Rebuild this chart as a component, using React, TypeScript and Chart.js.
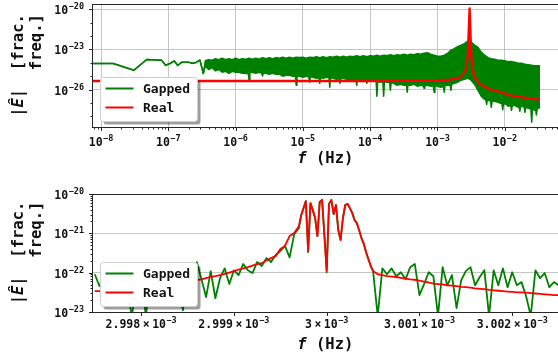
import React, { useEffect, useRef } from 'react';
import { Chart, registerables } from 'chart.js';

Chart.register(...registerables);

const seriesNames = ['Gapped', 'Real'];

// ---------------- top panel (log10 of frequency in Hz, log10 of |E|) ----------------
// upper edge of the dense "Gapped" spectrum
const topFreqLog10 = [
  -8.12, -7.82, -7.51, -7.32, -7.10, -7.04, -6.975, -6.91, -6.86, -6.80, -6.70, -6.65, -6.60, -6.53, -6.48,
  -6.45, -6.40, -6.35, -6.30, -6.25, -6.20, -6.15, -6.10, -6.05, -6.00,
  -5.95, -5.90, -5.85, -5.80, -5.75, -5.70, -5.65, -5.60, -5.55, -5.50,
  -5.45, -5.40, -5.35, -5.30, -5.25, -5.20, -5.15, -5.10, -5.05, -5.00,
  -4.95, -4.90, -4.85, -4.80, -4.75, -4.70, -4.65, -4.60, -4.55, -4.50,
  -4.45, -4.40, -4.35, -4.30, -4.25, -4.20, -4.15, -4.10, -4.05, -4.00,
  -3.95, -3.90, -3.85, -3.80, -3.75, -3.70, -3.65, -3.60, -3.55, -3.50,
  -3.45, -3.40, -3.35, -3.30, -3.25, -3.20, -3.15, -3.10, -3.05, -3.00,
  -2.95, -2.90, -2.85, -2.80, -2.75, -2.70, -2.65, -2.60, -2.55, -2.50,
  -2.45, -2.40, -2.35, -2.30, -2.25, -2.20, -2.15, -2.10, -2.05, -2.00,
  -1.95, -1.90, -1.85, -1.80, -1.75, -1.70, -1.65, -1.60, -1.55, -1.50,
  -1.475,
];
const topGappedUpperLog10 = [
  -24.05, -24.05, -24.55, -23.75, -23.80, -24.18, -24.05, -23.86, -24.20, -23.95, -23.95, -24.03, -24.00, -23.80, -24.80,
  -23.85, -23.76, -23.80, -23.69, -23.76, -23.65, -23.76, -23.69, -23.76, -23.65,
  -23.76, -23.69, -23.73, -23.65, -23.73, -23.65, -23.73, -23.61, -23.69, -23.61,
  -23.69, -23.61, -23.65, -23.58, -23.65, -23.58, -23.65, -23.58, -23.61, -23.58,
  -23.65, -23.58, -23.61, -23.54, -23.61, -23.54, -23.61, -23.54, -23.58, -23.50,
  -23.58, -23.50, -23.58, -23.50, -23.54, -23.46, -23.54, -23.46, -23.54, -23.46,
  -23.50, -23.43, -23.50, -23.43, -23.46, -23.39, -23.46, -23.39, -23.43, -23.35,
  -23.43, -23.35, -23.39, -23.31, -23.35, -23.28, -23.25, -23.35, -23.43, -23.50,
  -23.50, -23.43, -23.30, -23.05, -22.94, -22.79, -22.68, -22.56, -22.38, -22.45,
  -22.68, -22.83, -23.20, -23.43, -23.61, -23.69, -23.73, -23.80, -23.80, -23.84,
  -23.91, -23.91, -23.95, -24.03, -24.03, -24.10, -24.14, -24.18, -24.21, -24.21,
  -24.23,
];
// lower edge of the dense "Gapped" spectrum (with its narrow dips)
const topLowerFreqLog10 = [
  -8.12, -7.82, -7.51, -7.32, -7.10, -7.04, -6.975, -6.91, -6.86, -6.80, -6.70, -6.65, -6.60, -6.53, -6.48,
  -6.45, -6.40, -6.35, -6.30, -6.25, -6.20, -6.15, -6.10, -6.05, -6.00, -5.95, -5.90, -5.85,
  -5.812, -5.80, -5.788, -5.75, -5.70, -5.65, -5.612, -5.60, -5.588, -5.55, -5.50, -5.45, -5.40,
  -5.35, -5.30, -5.25, -5.20, -5.15, -5.112, -5.10, -5.088, -5.05, -5.00, -4.95,
  -4.912, -4.90, -4.888, -4.85, -4.80, -4.762, -4.75, -4.738, -4.70, -4.65,
  -4.612, -4.60, -4.588, -4.55, -4.50, -4.462, -4.45, -4.438, -4.40, -4.35, -4.30, -4.25,
  -4.212, -4.20, -4.188, -4.15, -4.10, -4.062, -4.05, -4.038, -4.00, -3.95,
  -3.912, -3.90, -3.888, -3.85, -3.812, -3.80, -3.788, -3.75, -3.712, -3.70, -3.688,
  -3.65, -3.60, -3.55, -3.50, -3.462, -3.45, -3.438, -3.40, -3.35, -3.30, -3.25,
  -3.212, -3.20, -3.188, -3.15, -3.10, -3.062, -3.05, -3.038, -3.00, -2.95,
  -2.912, -2.90, -2.888, -2.85, -2.812, -2.80, -2.788, -2.75, -2.70, -2.65, -2.60, -2.55,
  -2.50, -2.45, -2.40, -2.35, -2.30, -2.282, -2.27, -2.258, -2.25, -2.212, -2.20, -2.188,
  -2.15, -2.10, -2.05, -2.042, -2.03, -2.018, -2.00, -1.95, -1.912, -1.90, -1.888,
  -1.85, -1.80, -1.788, -1.776, -1.764, -1.75, -1.712, -1.70, -1.688, -1.65,
  -1.612, -1.60, -1.588, -1.55, -1.542, -1.53, -1.518, -1.50, -1.475,
];
const topGappedLowerLog10 = [
  -24.05, -24.05, -24.55, -23.75, -23.80, -24.18, -24.05, -23.86, -24.20, -23.95, -23.95, -24.03, -24.00, -23.80, -24.80,
  -24.25, -24.50, -24.35, -24.60, -24.50, -24.70, -24.63, -24.78, -24.63, -24.70, -24.70, -24.78, -24.80,
  -24.78, -25.30, -24.75, -24.70, -24.78, -24.70, -24.78, -24.98, -24.78, -24.78, -24.85, -24.78, -24.85,
  -24.85, -25.00, -24.93, -24.93, -25.00, -24.98, -25.68, -24.98, -25.00, -25.08, -25.00,
  -25.05, -25.45, -25.05, -25.08, -25.15, -25.12, -25.53, -25.12, -25.15, -25.08,
  -25.12, -25.83, -25.12, -25.15, -25.23, -25.20, -25.53, -25.20, -25.15, -25.23, -25.23, -25.30,
  -25.28, -25.68, -25.28, -25.30, -25.23, -25.28, -25.53, -25.28, -25.30, -25.30,
  -25.35, -26.50, -25.38, -25.45, -25.42, -26.50, -25.42, -25.45, -25.48, -26.05, -25.48,
  -25.53, -25.68, -25.60, -25.68, -25.65, -26.20, -25.65, -25.68, -25.60, -25.75, -25.68,
  -25.72, -25.90, -25.70, -25.68, -25.75, -25.72, -26.20, -25.72, -25.75, -25.83,
  -25.75, -26.20, -25.70, -25.68, -25.65, -26.05, -25.60, -25.53, -25.45, -25.30, -25.23, -25.15,
  -25.30, -25.60, -26.05, -26.50, -26.73, -26.76, -27.10, -26.78, -26.80, -26.85, -27.33, -26.85,
  -26.88, -26.95, -27.05, -27.08, -27.50, -27.08, -27.03, -27.25, -27.20, -27.55, -27.20,
  -27.18, -27.33, -27.30, -27.62, -27.28, -27.25, -27.30, -27.70, -27.32, -27.40,
  -27.45, -28.45, -27.45, -27.55, -27.50, -27.90, -27.45, -27.40, -27.33,
];
const topRealFreqLog10 = [
  -8.12, -4.0, -3.3, -3.0, -2.81, -2.67, -2.59, -2.566, -2.551, -2.523,
  -2.497, -2.482, -2.468, -2.43, -2.37, -2.22, -2.07, -1.92, -1.775, -1.63, -1.475,
];
const topRealLog10 = [
  -25.36, -25.36, -25.34, -25.30, -25.25, -25.10, -24.68, -24.18, -23.56, -19.92,
  -23.56, -24.18, -24.80, -25.23, -25.60, -25.98, -26.18, -26.43, -26.55, -26.67, -26.75,
];
const topXTickExponents = [-8, -7, -6, -5, -4, -3, -2];
const topYTickExponents = [-20, -23, -26];

// ---------------- bottom panel (offset from 3 mHz in nHz, log10 of |E|) ----------------
const bottomCentreHz = 3e-3;
const bottomOffsetNHz = [
  -2500, -2450, -2400, -2350, -2300, -2250, -2200, -2150, -2100, -2050,
  -2000, -1950, -1900, -1850, -1800, -1750, -1700, -1650, -1600, -1550,
  -1500, -1450, -1400, -1350, -1300, -1250, -1200, -1150, -1100, -1050,
  -1000, -950, -900, -850, -800, -750, -700, -650, -600, -550,
  -500, -450, -400, -350,
  -300, -275, -250, -225, -200, -175, -150, -125, -100, -75, -50, -25, 0,
  25, 50, 75, 100, 125, 150, 175, 200, 225, 250, 275, 300, 325, 350, 375, 400, 425, 450, 475, 500,
  550, 600, 650, 700, 750, 800, 850, 900, 950, 1000,
  1050, 1100, 1150, 1200, 1250, 1300, 1350, 1400, 1450, 1500,
  1550, 1600, 1650, 1700, 1750, 1800, 1850, 1900, 1950, 2000,
  2050, 2100, 2150, 2200, 2250, 2300, 2350, 2400, 2450, 2500,
];
const bottomGappedLog10 = [
  -22.04, -22.34, -22.14, -22.52, -22.22, -22.60, -22.17, -22.45, -23.10, -22.29,
  -22.06, -23.10, -22.19, -22.52, -22.09, -22.42, -21.99, -22.45, -22.17, -22.96,
  -22.06, -22.34, -21.73, -22.17, -22.62, -21.96, -22.65, -22.14, -21.89, -22.29,
  -21.94, -22.06, -21.78, -21.94, -22.01, -21.73, -21.83, -21.63, -21.73, -21.55,
  -21.45, -21.32, -21.61, -21.02,
  -20.87, -20.54, -20.36, -20.18, -21.48, -20.23, -20.41, -20.61, -21.07, -20.20, -20.15, -21.04, -21.99,
  -20.25, -20.15, -20.51, -20.28, -20.92, -21.17, -20.61, -20.28, -20.25, -20.36, -20.48, -20.66, -20.74,
  -20.92, -21.12, -21.27, -21.48, -21.66, -21.83, -21.96,
  -23.10, -21.89, -22.04, -21.89, -22.09, -21.99, -22.17, -21.86, -21.78, -22.57,
  -22.29, -21.99, -22.09, -23.10, -21.86, -22.32, -22.06, -22.90, -22.19, -21.96,
  -21.86, -22.32, -22.11, -21.94, -23.10, -21.94, -22.32, -21.89, -22.37, -21.99,
  -22.32, -22.24, -22.60, -23.10, -21.94, -22.14, -22.01, -22.37, -22.24, -22.32,
];
const bottomRealLog10 = [
  -22.47, -22.47, -22.46, -22.46, -22.45, -22.45, -22.43, -22.42, -22.42, -22.41,
  -22.39, -22.38, -22.37, -22.36, -22.34, -22.33, -22.32, -22.29, -22.28, -22.25,
  -22.24, -22.22, -22.19, -22.17, -22.14, -22.11, -22.09, -22.06, -22.03, -22.00,
  -21.96, -21.92, -21.89, -21.86, -21.82, -21.78, -21.76, -21.69, -21.63, -21.58,
  -21.40, -21.32, -21.07, -20.99,
  -20.82, -20.54, -20.36, -20.18, -21.43, -20.23, -20.41, -20.61, -21.07, -20.20, -20.15, -21.04, -21.94,
  -20.25, -20.15, -20.51, -20.28, -20.92, -21.17, -20.61, -20.28, -20.25, -20.36, -20.48, -20.66, -20.74,
  -20.92, -21.12, -21.27, -21.48, -21.66, -21.83, -21.96,
  -22.04, -22.06, -22.09, -22.10, -22.11, -22.13, -22.15, -22.17, -22.18, -22.20,
  -22.23, -22.25, -22.28, -22.29, -22.30, -22.32, -22.33, -22.34, -22.36, -22.37,
  -22.38, -22.40, -22.41, -22.42, -22.44, -22.45, -22.46, -22.47, -22.48, -22.49,
  -22.50, -22.50, -22.51, -22.52, -22.53, -22.54, -22.55, -22.56, -22.57, -22.57,
];
const bottomXTickValues = [2.998e-3, 2.999e-3, 3.0e-3, 3.001e-3, 3.002e-3];
const bottomXTickMantissas = ['2.998', '2.999', '3', '3.001', '3.002'];
const bottomYTickExponents = [-20, -21, -22, -23];

// ---------------- styling ----------------
const GREEN = '#008000';
const RED = '#ff0000';
const SPINE = '#262626';
const GRID = '#c4c4c4';
const TEXT = '#111111';
const MONO = '"DejaVu Sans Mono", monospace';
const TICK_FONT = `bold 11.5px ${MONO}`;
const SUP_FONT = `bold 8.5px ${MONO}`;
const TITLE_FONT = `bold 15.5px ${MONO}`;
const TITLE_ITALIC = `italic bold 15.5px ${MONO}`;
const LEGEND_FONT = `bold 13px ${MONO}`;
const CANVAS_W = 560;
const PLOT_LEFT = 92;
const PLOT_RIGHT = 558.6;

type Piece = { t: string; f: string; gap?: number; rise?: number };

function measurePieces(ctx: CanvasRenderingContext2D, pieces: Piece[]) {
  const widths = pieces.map((p) => {
    ctx.font = p.f;
    return ctx.measureText(p.t).width;
  });
  const total = pieces.reduce((s, p, i) => s + (p.gap || 0) + widths[i], 0);
  return { widths, total };
}

function drawPieces(ctx: CanvasRenderingContext2D, pieces: Piece[], x: number, y: number, align: 'center' | 'right' | 'left') {
  const { widths, total } = measurePieces(ctx, pieces);
  let cx = align === 'center' ? x - total / 2 : align === 'right' ? x - total : x;
  ctx.textAlign = 'left';
  ctx.textBaseline = 'alphabetic';
  pieces.forEach((p, i) => {
    cx += p.gap || 0;
    ctx.font = p.f;
    ctx.fillText(p.t, cx, y - (p.rise || 0));
    cx += widths[i];
  });
  return total;
}

const pow10Label = (e: number): Piece[] => [
  { t: '10', f: TICK_FONT },
  { t: '\u2212' + Math.abs(e), f: SUP_FONT, rise: 5, gap: 0.5 },
];

function roundRectPath(ctx: CanvasRenderingContext2D, x: number, y: number, w: number, h: number, r: number) {
  ctx.beginPath();
  ctx.moveTo(x + r, y);
  ctx.lineTo(x + w - r, y);
  ctx.arcTo(x + w, y, x + w, y + r, r);
  ctx.lineTo(x + w, y + h - r);
  ctx.arcTo(x + w, y + h, x + w - r, y + h, r);
  ctx.lineTo(x + r, y + h);
  ctx.arcTo(x, y + h, x, y + h - r, r);
  ctx.lineTo(x, y + r);
  ctx.arcTo(x, y, x + r, y, r);
  ctx.closePath();
}

type DecorSpec = {
  xMajor: number[];
  xMinor: number[];
  yMajor: number[];
  yMinor: number[];
  xLabels: Piece[][];
  yLabels: Piece[][];
  xLabelDy: number;
  titleDy: number;
};

function decorPlugin(spec: DecorSpec) {
  return {
    id: 'decor',
    afterDraw(chart: any) {
      const ctx = chart.ctx as CanvasRenderingContext2D;
      const a = chart.chartArea;
      const xs = chart.scales.x;
      const ys = chart.scales.y;
      ctx.save();
      // spines
      ctx.strokeStyle = SPINE;
      ctx.lineWidth = 1;
      ctx.strokeRect(a.left + 0.5, a.top + 0.5, a.right - a.left, a.bottom - a.top);
      // tick marks
      ctx.beginPath();
      const xt = (v: number, len: number) => {
        const p = Math.round(xs.getPixelForValue(v)) + 0.5;
        ctx.moveTo(p, a.bottom + 0.5);
        ctx.lineTo(p, a.bottom + 0.5 + len);
      };
      const yt = (v: number, len: number) => {
        const p = Math.round(ys.getPixelForValue(v)) + 0.5;
        ctx.moveTo(a.left + 0.5, p);
        ctx.lineTo(a.left + 0.5 - len, p);
      };
      spec.xMajor.forEach((v) => xt(v, 3.5));
      spec.xMinor.forEach((v) => xt(v, 2));
      spec.yMajor.forEach((v) => yt(v, 3.5));
      spec.yMinor.forEach((v) => yt(v, 2));
      ctx.stroke();
      // tick labels
      ctx.fillStyle = TEXT;
      spec.xMajor.forEach((v, i) => drawPieces(ctx, spec.xLabels[i], xs.getPixelForValue(v), a.bottom + spec.xLabelDy, 'center'));
      spec.yMajor.forEach((v, i) => drawPieces(ctx, spec.yLabels[i], a.left - 8, ys.getPixelForValue(v) + 5, 'right'));
      // x title
      drawPieces(ctx, [{ t: 'f', f: TITLE_ITALIC }, { t: ' (Hz)', f: TITLE_FONT }], (a.left + a.right) / 2, a.bottom + spec.titleDy, 'center');
      // y title
      const cy = (a.top + a.bottom) / 2;
      ctx.save();
      ctx.translate(23, cy);
      ctx.rotate(-Math.PI / 2);
      const line1: Piece[] = [
        { t: '|', f: TITLE_FONT },
        { t: '\u00CA', f: TITLE_ITALIC },
        { t: '|  [frac.', f: TITLE_FONT },
      ];
      const w1 = drawPieces(ctx, line1, 0, 0, 'center');
      drawPieces(ctx, [{ t: 'freq.]', f: TITLE_FONT }], w1 / 2, 18, 'right');
      ctx.restore();
      // legend
      const bw = 97;
      const bh = 44;
      const bx = a.left + 8.5;
      const by = a.bottom - 6 - bh + 0.5;
      roundRectPath(ctx, bx + 3, by + 3, bw, bh, 3);
      ctx.fillStyle = 'rgba(0,0,0,0.38)';
      ctx.fill();
      roundRectPath(ctx, bx, by, bw, bh, 3);
      ctx.fillStyle = '#ffffff';
      ctx.fill();
      ctx.strokeStyle = '#cfcfcf';
      ctx.lineWidth = 1;
      ctx.stroke();
      const entries = [
        { label: seriesNames[0], color: GREEN },
        { label: seriesNames[1], color: RED },
      ];
      entries.forEach((e, i) => {
        const ly = by + 11 + i * 19;
        ctx.strokeStyle = e.color;
        ctx.lineWidth = 2;
        ctx.beginPath();
        ctx.moveTo(bx + 5, ly);
        ctx.lineTo(bx + 33, ly);
        ctx.stroke();
        ctx.fillStyle = TEXT;
        ctx.font = LEGEND_FONT;
        ctx.textAlign = 'left';
        ctx.textBaseline = 'alphabetic';
        ctx.fillText(e.label, bx + 42.5, ly + 4.5);
      });
      ctx.restore();
    },
  };
}

function buildConfig(p: {
  datasets: any[];
  xType: string;
  xMin: number;
  xMax: number;
  yMin: number;
  yMax: number;
  xGrid: boolean;
  xGridValues: number[];
  yGridValues: number[];
  padTop: number;
  xAxisH: number;
  decor: DecorSpec;
}) {
  return {
    type: 'line',
    data: { datasets: p.datasets },
    options: {
      animation: false,
      responsive: false,
      events: [],
      layout: { padding: { top: p.padTop, right: CANVAS_W - PLOT_RIGHT, left: 0, bottom: 0 } },
      plugins: { legend: { display: false }, tooltip: { enabled: false } },
      elements: { point: { radius: 0 }, line: { tension: 0, borderJoinStyle: 'round' } },
      scales: {
        x: {
          type: p.xType,
          min: p.xMin,
          max: p.xMax,
          bounds: 'data',
          grid: { display: p.xGrid, color: GRID, lineWidth: 1, drawTicks: false },
          border: { display: false },
          ticks: { display: false },
          afterBuildTicks: (s: any) => {
            s.ticks = p.xGridValues.map((v) => ({ value: v }));
          },
          afterFit: (s: any) => {
            s.height = p.xAxisH;
            s.paddingLeft = 0;
            s.paddingRight = 0;
          },
        },
        y: {
          type: 'logarithmic',
          min: p.yMin,
          max: p.yMax,
          bounds: 'data',
          grid: { display: true, color: GRID, lineWidth: 1, drawTicks: false },
          border: { display: false },
          ticks: { display: false },
          afterBuildTicks: (s: any) => {
            s.ticks = p.yGridValues.map((v) => ({ value: v }));
          },
          afterFit: (s: any) => {
            s.width = PLOT_LEFT;
            s.paddingTop = 0;
            s.paddingBottom = 0;
          },
        },
      },
    },
    plugins: [decorPlugin(p.decor)],
  };
}

function logMinorTicks(lo: number, hi: number, minExp: number, maxExp: number) {
  const out: number[] = [];
  for (let e = minExp; e <= maxExp; e++) {
    for (let m = 2; m <= 9; m++) {
      const v = m * Math.pow(10, e);
      if (v > lo && v < hi) out.push(v);
    }
  }
  return out;
}

function topConfig() {
  const xMin = Math.pow(10, -8.134);
  const xMax = Math.pow(10, -1.2);
  const yMin = Math.pow(10, -28.8);
  const yMax = Math.pow(10, -19.6);
  const xMajor = topXTickExponents.map((e) => Math.pow(10, e));
  const yMajor = topYTickExponents.map((e) => Math.pow(10, e));
  const yMinor = [-21, -22, -24, -25, -27, -28].map((e) => Math.pow(10, e));
  const datasets = [
    {
      label: seriesNames[1],
      data: topRealFreqLog10.map((f, i) => ({ x: Math.pow(10, f), y: Math.pow(10, topRealLog10[i]) })),
      borderColor: RED,
      borderWidth: 2.3,
      fill: false,
      order: 0,
    },
    {
      label: seriesNames[0],
      data: topFreqLog10.map((f, i) => ({ x: Math.pow(10, f), y: Math.pow(10, topGappedUpperLog10[i]) })),
      borderColor: GREEN,
      backgroundColor: GREEN,
      borderWidth: 1.5,
      fill: '+1',
      order: 1,
    },
    {
      label: seriesNames[0] + ' lower',
      data: topLowerFreqLog10.map((f, i) => ({ x: Math.pow(10, f), y: Math.pow(10, topGappedLowerLog10[i]) })),
      borderColor: GREEN,
      borderWidth: 1.5,
      fill: false,
      order: 2,
    },
  ];
  return buildConfig({
    datasets,
    xType: 'logarithmic',
    xMin,
    xMax,
    yMin,
    yMax,
    xGrid: true,
    xGridValues: xMajor,
    yGridValues: yMajor,
    padTop: 4,
    xAxisH: 53,
    decor: {
      xMajor,
      xMinor: logMinorTicks(xMin, xMax, -9, -2),
      yMajor,
      yMinor,
      xLabels: topXTickExponents.map(pow10Label),
      yLabels: topYTickExponents.map(pow10Label),
      xLabelDy: 19,
      titleDy: 36,
    },
  });
}

function bottomConfig() {
  const yMajor = bottomYTickExponents.map((e) => Math.pow(10, e));
  const freqs = bottomOffsetNHz.map((o) => bottomCentreHz + o * 1e-9);
  const datasets = [
    {
      label: seriesNames[1],
      data: freqs.map((f, i) => ({ x: f, y: Math.pow(10, bottomRealLog10[i]) })),
      borderColor: RED,
      borderWidth: 1.8,
      fill: false,
      order: 0,
    },
    {
      label: seriesNames[0],
      data: freqs.map((f, i) => ({ x: f, y: Math.pow(10, bottomGappedLog10[i]) })),
      borderColor: GREEN,
      borderWidth: 1.8,
      fill: false,
      order: 1,
    },
  ];
  const xLabels: Piece[][] = bottomXTickMantissas.map((m) => [
    { t: m, f: TICK_FONT },
    { t: '\u00D7', f: TICK_FONT, gap: 2.5 },
    { t: '10', f: TICK_FONT, gap: 2.5 },
    { t: '\u22123', f: SUP_FONT, rise: 5, gap: 0.5 },
  ]);
  return buildConfig({
    datasets,
    xType: 'linear',
    xMin: 2.99747e-3,
    xMax: 3.0025e-3,
    yMin: 1e-23,
    yMax: 1e-20,
    xGrid: false,
    xGridValues: bottomXTickValues,
    yGridValues: [1e-21, 1e-22],
    padTop: 14,
    xAxisH: 46,
    decor: {
      xMajor: bottomXTickValues,
      xMinor: [],
      yMajor,
      yMinor: logMinorTicks(1e-23, 1e-20, -23, -21),
      xLabels,
      yLabels: bottomYTickExponents.map(pow10Label),
      xLabelDy: 16,
      titleDy: 37,
    },
  });
}

export default function App() {
  const topRef = useRef<HTMLCanvasElement>(null);
  const botRef = useRef<HTMLCanvasElement>(null);

  useEffect(() => {
    const charts: Chart[] = [];
    if (topRef.current) charts.push(new Chart(topRef.current, topConfig() as any));
    if (botRef.current) charts.push(new Chart(botRef.current, bottomConfig() as any));
    return () => charts.forEach((c) => c.destroy());
  }, []);

  return (
    <div
      style={{
        position: 'absolute',
        left: 0,
        top: 0,
        width: 558,
        height: 358,
        overflow: 'hidden',
        background: '#ffffff',
      }}
    >
      <canvas
        ref={topRef}
        width={CANVAS_W}
        height={180}
        style={{ position: 'absolute', left: 0, top: 0, width: CANVAS_W, height: 180, display: 'block' }}
      />
      <canvas
        ref={botRef}
        width={CANVAS_W}
        height={178}
        style={{ position: 'absolute', left: 0, top: 180, width: CANVAS_W, height: 178, display: 'block' }}
      />
    </div>
  );
}
